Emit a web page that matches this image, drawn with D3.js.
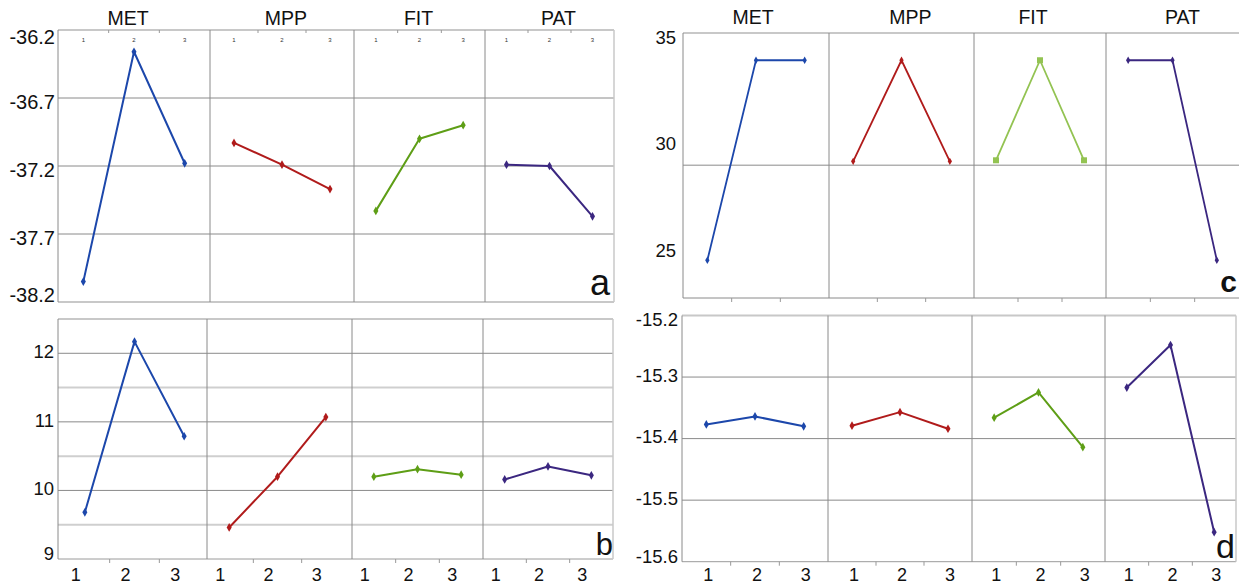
<!DOCTYPE html>
<html>
<head>
<meta charset="utf-8">
<script src="https://cdn.jsdelivr.net/npm/d3@7"></script>
<style>
html,body{margin:0;padding:0;background:#fff;}
svg{display:block;font-family:"Liberation Sans",Arial,sans-serif;}
</style>
</head>
<body>
<svg id="chart" width="1239" height="586"></svg>
<script>
// ---------- data ----------
const facets = ["MET", "MPP", "FIT", "PAT"];
const levels = ["1", "2", "3"];

const aMET = [-38.05, -36.36, -37.18];
const aMPP = [-37.03, -37.19, -37.37];
const aFIT = [-37.53, -37.00, -36.90];
const aPAT = [-37.19, -37.20, -37.57];

const bMET = [9.68, 12.17, 10.79];
const bMPP = [9.46, 10.20, 11.07];
const bFIT = [10.20, 10.31, 10.23];
const bPAT = [10.16, 10.35, 10.22];

const cMET = [24.6, 34.0, 34.0];
const cMPP = [29.25, 34.0, 29.25];
const cFIT = [29.3, 34.0, 29.3];
const cPAT = [34.0, 34.0, 24.6];

const dMET = [-15.377, -15.364, -15.380];
const dMPP = [-15.379, -15.357, -15.384];
const dFIT = [-15.366, -15.325, -15.414];
const dPAT = [-15.317, -15.248, -15.552];

const aTicks = [-36.2, -36.7, -37.2, -37.7, -38.2];
const bTicks = [9, 10, 11, 12];
const bMinorTicks = [9.5, 10.5, 11.5];
const cTicks = [25, 30, 35];
const cGridValues = [29.07];
const dTicks = [-15.2, -15.3, -15.4, -15.5, -15.6];

// ---------- drawing ----------
const svg = d3.select("#chart");
const colorsDark = ["#1c47ab", "#b01b1b", "#5e9e16", "#3b2780"];
const colorsC = ["#1c47ab", "#b01b1b", "#93c352", "#3b2780"];

function drawPanel(cfg) {
  const g = svg.append("g");
  const b = cfg.bounds;
  const y = cfg.y;
  const [yBot, yTop] = y.range();
  const x0 = b[0], x1 = b[b.length - 1];

  (cfg.minor || []).forEach(v => {
    g.append("line").attr("x1", x0).attr("x2", x1).attr("y1", y(v)).attr("y2", y(v))
      .attr("stroke", "#cfcfcf").attr("stroke-width", 2);
  });
  cfg.grid.forEach(v => {
    g.append("line").attr("x1", x0).attr("x2", x1).attr("y1", y(v)).attr("y2", y(v))
      .attr("stroke", "#8a8a8a").attr("stroke-width", 1);
  });
  g.append("line").attr("x1", x0).attr("x2", x1).attr("y1", yTop).attr("y2", yTop)
    .attr("stroke", cfg.topColor || "#c8c8c8").attr("stroke-width", 2);
  g.append("line").attr("x1", x0).attr("x2", x1).attr("y1", yBot).attr("y2", yBot)
    .attr("stroke", cfg.bottomColor || "#9a9a9a").attr("stroke-width", cfg.bottomWidth || 1);
  b.forEach((bx, i) => {
    const isEdge = i === b.length - 1;
    if (isEdge && !cfg.rightBorder) return;
    g.append("line").attr("x1", bx).attr("x2", bx).attr("y1", yTop).attr("y2", yBot)
      .attr("stroke", isEdge ? "#c8c8c8" : "#8a8a8a").attr("stroke-width", isEdge ? 1.5 : 1);
  });

  // y labels (kept inside panel extent)
  cfg.ticks.forEach(v => {
    let ty = y(v) + (cfg.labelDy || 0);
    ty = Math.max(yTop + cfg.clampTop, Math.min(yBot - cfg.clampBot, ty));
    g.append("text").attr("x", cfg.labelX).attr("y", ty)
      .attr("text-anchor", "end").attr("dominant-baseline", "middle")
      .attr("font-size", cfg.labelSize).attr("fill", "#111")
      .text(cfg.fmt ? cfg.fmt(v) : String(v));
  });

  facets.forEach((f, i) => {
    const xs = d3.scalePoint().domain(levels).range([b[i], b[i + 1]]).padding(0.5);
    const vals = cfg.values[i];
    const cx = xs.domain().map(l => xs(l) + (cfg.shift ? cfg.shift[i] : 0));

    if (cfg.titleY) {
      g.append("text").attr("x", (b[i] + b[i + 1]) / 2 + (cfg.titleShift ? cfg.titleShift[i] : 0))
        .attr("y", cfg.titleY).attr("text-anchor", "middle")
        .attr("font-size", 19.5).attr("fill", "#111").text(f);
    }
    const mids = [(cx[0] + cx[1]) / 2, (cx[1] + cx[2]) / 2];
    if (cfg.tickEdge === "top") {
      mids.forEach(m => g.append("line").attr("x1", m).attr("x2", m).attr("y1", yTop).attr("y2", yTop + 3)
        .attr("stroke", "#999"));
      levels.forEach((l, k) => g.append("text").attr("x", cx[k]).attr("y", yTop + 10)
        .attr("text-anchor", "middle").attr("dominant-baseline", "middle")
        .attr("font-size", 6).attr("fill", "#333").text(l));
    } else {
      mids.forEach(m => g.append("line").attr("x1", m).attr("x2", m).attr("y1", yBot).attr("y2", yBot + 4)
        .attr("stroke", "#999"));
      if (cfg.xLabels) {
        levels.forEach((l, k) => g.append("text").attr("x", cx[k] + cfg.xLabelShift)
          .attr("y", cfg.xLabelY).attr("text-anchor", "middle")
          .attr("font-size", 18).attr("fill", "#111").text(l));
      }
    }

    const line = d3.line().x((d, k) => cx[k]).y(d => y(d));
    g.append("path").datum(vals).attr("d", line).attr("fill", "none")
      .attr("stroke", cfg.colors[i]).attr("stroke-width", cfg.lineWidth)
      .attr("stroke-linejoin", "round");
    const sym = (cfg.squareFacet === i) ? d3.symbol().type(d3.symbolSquare).size(36)
                                         : d3.symbol().type(d3.symbolDiamond).size(cfg.markerSize || 22);
    vals.forEach((v, k) => {
      g.append("path").attr("d", sym()).attr("transform", `translate(${cx[k]},${y(v)})`)
        .attr("fill", cfg.colors[i]);
    });
  });

  g.append("text").attr("x", cfg.corner.x).attr("y", cfg.corner.y).attr("text-anchor", "end")
    .attr("font-size", cfg.corner.size).attr("font-weight", cfg.corner.weight || "normal")
    .attr("fill", "#111").text(cfg.corner.text);
}

// panel a
drawPanel({
  values: [aMET, aMPP, aFIT, aPAT],
  bounds: [58, 210, 354, 485, 614],
  y: d3.scaleLinear().domain([-38.2, -36.2]).range([302, 30]),
  grid: [-36.7, -37.2, -37.7],
  ticks: aTicks, labelX: 55, labelDy: 6, labelSize: 20, clampTop: 9, clampBot: 5,
  fmt: v => v.toFixed(1),
  bottomColor: "#c8c8c8", bottomWidth: 2, rightBorder: true,
  titleY: 25, titleShift: [-6, 4, -1, 9],
  tickEdge: "top",
  colors: colorsDark, lineWidth: 2,
  corner: {text: "a", x: 610, y: 295, size: 36}
});

// panel b
drawPanel({
  values: [bMET, bMPP, bFIT, bPAT],
  bounds: [58, 207, 352, 483, 613],
  shift: [2, -2, 0, 0],
  y: d3.scaleLinear().domain([9, 12.5]).range([559, 319]),
  grid: [10, 11, 12], minor: bMinorTicks,
  ticks: bTicks, labelX: 54, labelDy: 0, labelSize: 18.5, clampTop: 0, clampBot: 4,
  rightBorder: true,
  tickEdge: "bottom", xLabels: true, xLabelShift: -9, xLabelY: 581,
  colors: colorsDark, lineWidth: 2,
  corner: {text: "b", x: 613, y: 555, size: 31}
});

// panel c
drawPanel({
  values: [cMET, cMPP, cFIT, cPAT],
  bounds: [683, 829, 974, 1106, 1239],
  y: d3.scaleLinear().domain([22.83, 35.28]).range([298, 33]),
  grid: cGridValues,
  ticks: cTicks, labelX: 676, labelDy: 0, labelSize: 18.5, clampTop: 0, clampBot: 0,
  bottomColor: "#8a8a8a",
  titleY: 24, titleShift: [-3, 9, -7, 10],
  tickEdge: "bottom", xLabels: false,
  colors: colorsC, lineWidth: 1.8, squareFacet: 2, markerSize: 16,
  corner: {text: "c", x: 1237, y: 292, size: 30, weight: "bold"}
});

// panel d
drawPanel({
  values: [dMET, dMPP, dFIT, dPAT],
  bounds: [682, 828, 972, 1105, 1236],
  y: d3.scaleLinear().domain([-15.6, -15.2]).range([561.7, 315.5]),
  grid: [-15.3, -15.4, -15.5],
  ticks: dTicks, labelX: 678, labelDy: 0, labelSize: 18.5, clampTop: 6, clampBot: 4,
  fmt: v => v.toFixed(1),
  rightBorder: true,
  tickEdge: "bottom", xLabels: true, xLabelShift: 2, xLabelY: 581,
  colors: colorsDark, lineWidth: 2,
  corner: {text: "d", x: 1235, y: 558, size: 34}
});
</script>
</body>
</html>
